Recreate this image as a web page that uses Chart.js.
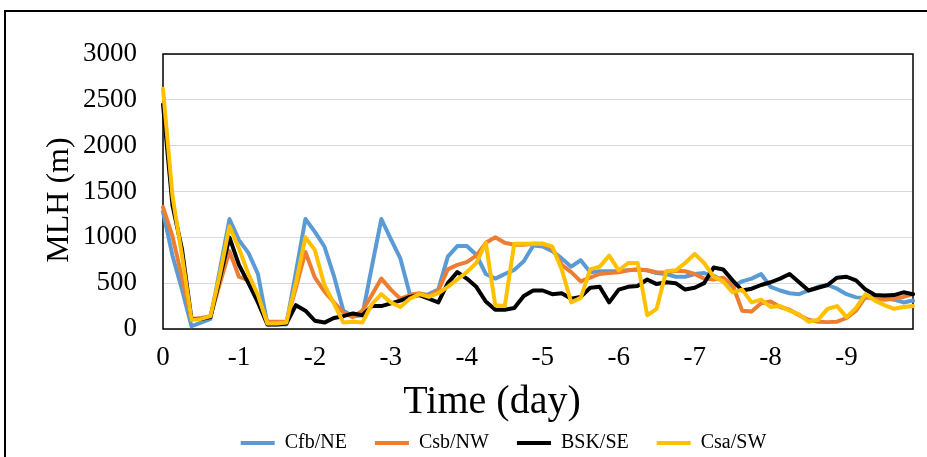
<!DOCTYPE html>
<html>
<head>
<meta charset="utf-8">
<title>MLH</title>
<script src="https://cdn.jsdelivr.net/npm/chart.js@4.4.1/dist/chart.umd.min.js"></script>
<style>
  html, body { margin: 0; padding: 0; background: #fff; }
  #wrap { width: 927px; height: 457px; }
</style>
</head>
<body>
<div id="wrap"><canvas id="chart" width="927" height="457"></canvas></div>
<script>
// 3-hourly backward time steps (hours), 0 .. -237
const hoursBack = [0, -3, -6, -9, -12, -15, -18, -21, -24, -27, -30, -33, -36, -39, -42, -45,
  -48, -51, -54, -57, -60, -63, -66, -69, -72, -75, -78, -81, -84, -87, -90, -93,
  -96, -99, -102, -105, -108, -111, -114, -117, -120, -123, -126, -129, -132, -135, -138, -141,
  -144, -147, -150, -153, -156, -159, -162, -165, -168, -171, -174, -177, -180, -183, -186, -189,
  -192, -195, -198, -201, -204, -207, -210, -213, -216, -219, -222, -225, -228, -231, -234, -237];

const dayLabels = ['0', '-1', '-2', '-3', '-4', '-5', '-6', '-7', '-8', '-9'];

// mixing layer height (m)
const cfbNE = [1280, 800, 430, 30, 70, 110, 650, 1200, 970, 830, 600, 50, 50, 50, 620, 1200,
  1060, 900, 580, 200, 140, 150, 680, 1200, 980, 770, 380, 370, 380, 430, 790, 905,
  905, 810, 600, 550, 600, 645, 740, 910, 900, 850, 770, 680, 750, 620, 630, 630,
  630, 640, 650, 640, 610, 600, 570, 570, 600, 610, 580, 520, 460, 520, 550, 600,
  460, 420, 390, 380, 420, 460, 480, 440, 380, 345, 340, 355, 340, 320, 290, 310];

const csbNW = [1330, 1010, 560, 110, 120, 140, 500, 850, 570, 530, 330, 80, 80, 80, 450, 840,
  560, 410, 290, 180, 130, 200, 370, 550, 430, 330, 370, 390, 360, 420, 650, 700,
  730, 800, 940, 1000, 940, 920, 920, 930, 930, 880, 700, 620, 520, 560, 600, 610,
  620, 640, 650, 640, 620, 615, 635, 630, 600, 550, 540, 560, 480, 200, 190, 280,
  300, 240, 210, 150, 100, 80, 75, 80, 120, 200, 350, 330, 320, 330, 350, 380];

const bskSE = [2450, 1350, 870, 110, 110, 130, 560, 1000, 700, 500, 290, 50, 50, 60, 260, 200,
  90, 70, 120, 140, 170, 150, 250, 250, 280, 310, 350, 370, 330, 290, 500, 620,
  550, 460, 300, 210, 210, 230, 360, 420, 420, 380, 390, 330, 350, 450, 460, 290,
  430, 460, 470, 540, 490, 510, 500, 430, 450, 500, 670, 650, 530, 420, 440, 480,
  510, 550, 600, 510, 420, 450, 480, 560, 570, 530, 430, 370, 365, 370, 400, 380];

const csaSW = [2620, 1450, 800, 100, 110, 140, 600, 1120, 880, 600, 370, 60, 60, 70, 500, 1000,
  860, 480, 280, 70, 80, 70, 270, 380, 290, 240, 330, 380, 350, 390, 460, 540,
  620, 720, 940, 260, 250, 930, 930, 930, 930, 900, 650, 290, 340, 650, 680, 800,
  640, 720, 720, 150, 220, 630, 640, 720, 820, 720, 570, 520, 400, 430, 290, 320,
  240, 250, 200, 160, 80, 100, 220, 250, 130, 230, 380, 310, 260, 220, 240, 250];

const serif = '"Liberation Serif", "Times New Roman", serif';
Chart.defaults.font.family = serif;
Chart.defaults.color = '#000';

function line(label, data, color, order) {
  return {
    label, data, order,
    borderColor: color, backgroundColor: color,
    borderWidth: 4, pointRadius: 0, tension: 0,
    borderJoinStyle: 'round', borderCapStyle: 'round'
  };
}

// outer frame, plot box, axis titles, legend placement
const decor = {
  id: 'decor',
  afterLayout(chart) {
    const lg = chart.legend;
    if (!lg) return;
    lg.top += 6; lg.bottom += 6;
    lg.left += 12; lg.right += 12;
  },
  beforeDraw(chart) {
    const ctx = chart.ctx;
    ctx.save();
    ctx.fillStyle = '#fff';
    ctx.fillRect(0, 0, chart.width, chart.height);
    ctx.strokeStyle = '#000';
    ctx.lineWidth = 2;
    ctx.strokeRect(5, 11, 940, 470);
    ctx.restore();
  },
  beforeDatasetsDraw(chart) {
    const { ctx, chartArea: a } = chart;
    ctx.save();
    ctx.strokeStyle = '#000';
    ctx.lineWidth = 1.5;
    ctx.strokeRect(a.left, a.top, a.right - a.left, a.bottom - a.top);
    ctx.restore();
  },
  afterDraw(chart) {
    const ctx = chart.ctx;
    ctx.save();
    ctx.fillStyle = '#000';
    ctx.textAlign = 'center';
    ctx.textBaseline = 'middle';
    ctx.font = '40px ' + serif;
    ctx.fillText('Time (day)', 492, 402);
    ctx.translate(60, 200);
    ctx.rotate(-Math.PI / 2);
    ctx.font = '32px ' + serif;
    ctx.fillText('MLH (m)', 0, 0);
    ctx.restore();
  }
};

new Chart(document.getElementById('chart'), {
  type: 'line',
  data: {
    labels: hoursBack,
    datasets: [
      line('Cfb/NE', cfbNE, '#5B9BD5', 4),
      line('Csb/NW', csbNW, '#ED7D31', 3),
      line('BSK/SE', bskSE, '#000000', 2),
      line('Csa/SW', csaSW, '#FFC000', 1)
    ]
  },
  options: {
    responsive: false,
    animation: false,
    layout: { padding: { left: 70, right: 14, top: 54, bottom: 0 } },
    plugins: {
      tooltip: { enabled: false },
      legend: {
        position: 'bottom',
        labels: {
          font: { size: 20 },
          boxWidth: 34, boxHeight: 4, padding: 28,
          sort: (a, b) => a.datasetIndex - b.datasetIndex,
          generateLabels(chart) {
            return Chart.defaults.plugins.legend.labels.generateLabels(chart)
              .map(it => ({ ...it, fillStyle: it.strokeStyle, lineWidth: 0 }));
          }
        }
      }
    },
    scales: {
      x: {
        type: 'category',
        offset: false,
        grid: { display: false, drawTicks: false },
        border: { display: false },
        ticks: {
          autoSkip: false, maxRotation: 0, minRotation: 0, padding: 13,
          font: { size: 27 },
          callback: (v, i) => hoursBack[i] % 24 === 0 ? dayLabels[-hoursBack[i] / 24] : ''
        },
        afterFit(s) { s.height = 70; }
      },
      y: {
        min: 0, max: 3000,
        grid: { color: '#D9D9D9', lineWidth: 1, drawTicks: false },
        border: { display: false },
        ticks: { stepSize: 500, padding: 26, font: { size: 27 }, callback: v => String(v) },
        afterFit(s) { s.width = 93; }
      }
    }
  },
  plugins: [decor]
});
</script>
</body>
</html>
